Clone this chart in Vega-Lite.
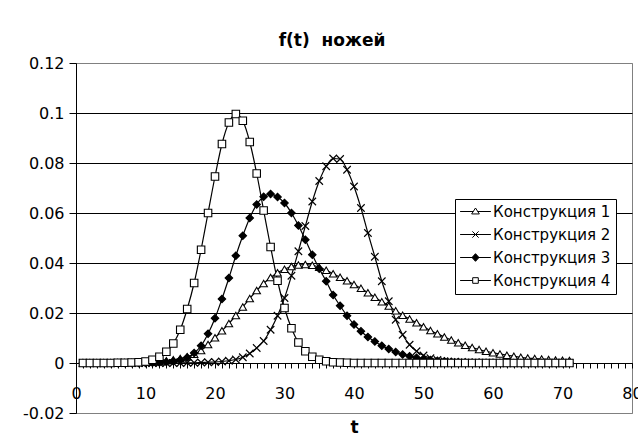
{
  "$schema": "https://vega.github.io/schema/vega-lite/v6.json",
  "width": 556,
  "height": 350,
  "autosize": {"type": "none"},
  "padding": {"left": 76, "top": 63, "right": 6, "bottom": 32},
  "background": "white",
  "title": {
    "text": "f(t)\u00a0 ножей",
    "font": "DejaVu Sans",
    "fontSize": 17,
    "fontWeight": "bold",
    "color": "black",
    "anchor": "middle",
    "dx": -22,
    "dy": 24,
    "baseline": "alphabetic",
    "offset": 16
  },
  "config": {
    "view": {"stroke": "#808080", "strokeWidth": 1},
    "axis": {
      "labelFont": "DejaVu Sans",
      "labelFontSize": 16,
      "labelColor": "black",
      "titleFont": "DejaVu Sans",
      "titleColor": "black",
      "domainColor": "black",
      "tickColor": "black",
      "domainWidth": 1,
      "tickWidth": 1
    },
    "legend": {
      "orient": "none",
      "legendX": 379,
      "legendY": 136,
      "fillColor": "white",
      "strokeColor": "black",
      "padding": 5,
      "labelFont": "DejaVu Sans",
      "labelFontSize": 15,
      "labelColor": "black",
      "symbolSize": 196,
      "symbolStrokeWidth": 1,
      "symbolOpacity": 1,
      "rowPadding": 7,
      "symbolOffset": 8,
      "labelOffset": 10
    }
  },
  "data": {
    "values": [
      {"t":1,"s":"Конструкция 1","v":0},{"t":2,"s":"Конструкция 1","v":0},{"t":3,"s":"Конструкция 1","v":0},{"t":4,"s":"Конструкция 1","v":0},{"t":5,"s":"Конструкция 1","v":0},
      {"t":6,"s":"Конструкция 1","v":0.0001},{"t":7,"s":"Конструкция 1","v":0.0001},{"t":8,"s":"Конструкция 1","v":0.0001},{"t":9,"s":"Конструкция 1","v":0.0002},{"t":10,"s":"Конструкция 1","v":0.0003},
      {"t":11,"s":"Конструкция 1","v":0.0004},{"t":12,"s":"Конструкция 1","v":0.0006},{"t":13,"s":"Конструкция 1","v":0.0009},{"t":14,"s":"Конструкция 1","v":0.0013},{"t":15,"s":"Конструкция 1","v":0.0018},
      {"t":16,"s":"Конструкция 1","v":0.0025},{"t":17,"s":"Конструкция 1","v":0.0035},{"t":18,"s":"Конструкция 1","v":0.005},{"t":19,"s":"Конструкция 1","v":0.0074},{"t":20,"s":"Конструкция 1","v":0.0101},
      {"t":21,"s":"Конструкция 1","v":0.0129},{"t":22,"s":"Конструкция 1","v":0.0158},{"t":23,"s":"Конструкция 1","v":0.019},{"t":24,"s":"Конструкция 1","v":0.0224},{"t":25,"s":"Конструкция 1","v":0.0258},
      {"t":26,"s":"Конструкция 1","v":0.029},{"t":27,"s":"Конструкция 1","v":0.0318},{"t":28,"s":"Конструкция 1","v":0.0342},{"t":29,"s":"Конструкция 1","v":0.0361},{"t":30,"s":"Конструкция 1","v":0.0375},
      {"t":31,"s":"Конструкция 1","v":0.0386},{"t":32,"s":"Конструкция 1","v":0.0392},{"t":33,"s":"Конструкция 1","v":0.0394},{"t":34,"s":"Конструкция 1","v":0.0391},{"t":35,"s":"Конструкция 1","v":0.0383},
      {"t":36,"s":"Конструкция 1","v":0.0371},{"t":37,"s":"Конструкция 1","v":0.0357},{"t":38,"s":"Конструкция 1","v":0.0343},{"t":39,"s":"Конструкция 1","v":0.0329},{"t":40,"s":"Конструкция 1","v":0.0314},
      {"t":41,"s":"Конструкция 1","v":0.0299},{"t":42,"s":"Конструкция 1","v":0.0281},{"t":43,"s":"Конструкция 1","v":0.0263},{"t":44,"s":"Конструкция 1","v":0.0245},{"t":45,"s":"Конструкция 1","v":0.0228},
      {"t":46,"s":"Конструкция 1","v":0.0209},{"t":47,"s":"Конструкция 1","v":0.0191},{"t":48,"s":"Конструкция 1","v":0.0176},{"t":49,"s":"Конструкция 1","v":0.0161},{"t":50,"s":"Конструкция 1","v":0.0145},
      {"t":51,"s":"Конструкция 1","v":0.013},{"t":52,"s":"Конструкция 1","v":0.0117},{"t":53,"s":"Конструкция 1","v":0.0104},{"t":54,"s":"Конструкция 1","v":0.0092},{"t":55,"s":"Конструкция 1","v":0.0081},
      {"t":56,"s":"Конструкция 1","v":0.0071},{"t":57,"s":"Конструкция 1","v":0.0062},{"t":58,"s":"Конструкция 1","v":0.0054},{"t":59,"s":"Конструкция 1","v":0.0047},{"t":60,"s":"Конструкция 1","v":0.0041},
      {"t":61,"s":"Конструкция 1","v":0.0036},{"t":62,"s":"Конструкция 1","v":0.0031},{"t":63,"s":"Конструкция 1","v":0.0027},{"t":64,"s":"Конструкция 1","v":0.0023},{"t":65,"s":"Конструкция 1","v":0.002},
      {"t":66,"s":"Конструкция 1","v":0.0018},{"t":67,"s":"Конструкция 1","v":0.0016},{"t":68,"s":"Конструкция 1","v":0.0014},{"t":69,"s":"Конструкция 1","v":0.0012},{"t":70,"s":"Конструкция 1","v":0.0011},
      {"t":71,"s":"Конструкция 1","v":0.001},

      {"t":1,"s":"Конструкция 2","v":0},{"t":2,"s":"Конструкция 2","v":0},{"t":3,"s":"Конструкция 2","v":0},{"t":4,"s":"Конструкция 2","v":0},{"t":5,"s":"Конструкция 2","v":0},
      {"t":6,"s":"Конструкция 2","v":0},{"t":7,"s":"Конструкция 2","v":0},{"t":8,"s":"Конструкция 2","v":0},{"t":9,"s":"Конструкция 2","v":0},{"t":10,"s":"Конструкция 2","v":0},
      {"t":11,"s":"Конструкция 2","v":0},{"t":12,"s":"Конструкция 2","v":0},{"t":13,"s":"Конструкция 2","v":0},{"t":14,"s":"Конструкция 2","v":0},{"t":15,"s":"Конструкция 2","v":0},
      {"t":16,"s":"Конструкция 2","v":0.0001},{"t":17,"s":"Конструкция 2","v":0.0001},{"t":18,"s":"Конструкция 2","v":0.0002},{"t":19,"s":"Конструкция 2","v":0.0003},{"t":20,"s":"Конструкция 2","v":0.0004},
      {"t":21,"s":"Конструкция 2","v":0.0006},{"t":22,"s":"Конструкция 2","v":0.0009},{"t":23,"s":"Конструкция 2","v":0.0014},{"t":24,"s":"Конструкция 2","v":0.0023},{"t":25,"s":"Конструкция 2","v":0.0038},
      {"t":26,"s":"Конструкция 2","v":0.006},{"t":27,"s":"Конструкция 2","v":0.0088},{"t":28,"s":"Конструкция 2","v":0.0133},{"t":29,"s":"Конструкция 2","v":0.0189},{"t":30,"s":"Конструкция 2","v":0.026},
      {"t":31,"s":"Конструкция 2","v":0.0349},{"t":32,"s":"Конструкция 2","v":0.0447},{"t":33,"s":"Конструкция 2","v":0.0548},{"t":34,"s":"Конструкция 2","v":0.0646},{"t":35,"s":"Конструкция 2","v":0.0728},
      {"t":36,"s":"Конструкция 2","v":0.0787},{"t":37,"s":"Конструкция 2","v":0.0818},{"t":38,"s":"Конструкция 2","v":0.0816},{"t":39,"s":"Конструкция 2","v":0.0773},{"t":40,"s":"Конструкция 2","v":0.0706},
      {"t":41,"s":"Конструкция 2","v":0.062},{"t":42,"s":"Конструкция 2","v":0.052},{"t":43,"s":"Конструкция 2","v":0.0425},{"t":44,"s":"Конструкция 2","v":0.0327},{"t":45,"s":"Конструкция 2","v":0.0247},
      {"t":46,"s":"Конструкция 2","v":0.0173},{"t":47,"s":"Конструкция 2","v":0.0113},{"t":48,"s":"Конструкция 2","v":0.0073},{"t":49,"s":"Конструкция 2","v":0.0047},{"t":50,"s":"Конструкция 2","v":0.003},
      {"t":51,"s":"Конструкция 2","v":0.0019},{"t":52,"s":"Конструкция 2","v":0.0012},{"t":53,"s":"Конструкция 2","v":0.0007},{"t":54,"s":"Конструкция 2","v":0.0004},{"t":55,"s":"Конструкция 2","v":0.0002},
      {"t":56,"s":"Конструкция 2","v":0.0001},{"t":57,"s":"Конструкция 2","v":0},{"t":58,"s":"Конструкция 2","v":0},{"t":59,"s":"Конструкция 2","v":0},{"t":60,"s":"Конструкция 2","v":0},
      {"t":61,"s":"Конструкция 2","v":0},{"t":62,"s":"Конструкция 2","v":0},{"t":63,"s":"Конструкция 2","v":0},{"t":64,"s":"Конструкция 2","v":0},{"t":65,"s":"Конструкция 2","v":0},
      {"t":66,"s":"Конструкция 2","v":0},{"t":67,"s":"Конструкция 2","v":0},{"t":68,"s":"Конструкция 2","v":0},{"t":69,"s":"Конструкция 2","v":0},{"t":70,"s":"Конструкция 2","v":0},
      {"t":71,"s":"Конструкция 2","v":0},

      {"t":1,"s":"Конструкция 3","v":0},{"t":2,"s":"Конструкция 3","v":0},{"t":3,"s":"Конструкция 3","v":0},{"t":4,"s":"Конструкция 3","v":0},{"t":5,"s":"Конструкция 3","v":0},
      {"t":6,"s":"Конструкция 3","v":0},{"t":7,"s":"Конструкция 3","v":0},{"t":8,"s":"Конструкция 3","v":0},{"t":9,"s":"Конструкция 3","v":0},{"t":10,"s":"Конструкция 3","v":0},
      {"t":11,"s":"Конструкция 3","v":0.0001},{"t":12,"s":"Конструкция 3","v":0.0002},{"t":13,"s":"Конструкция 3","v":0.0004},{"t":14,"s":"Конструкция 3","v":0.0007},{"t":15,"s":"Конструкция 3","v":0.0012},
      {"t":16,"s":"Конструкция 3","v":0.0022},{"t":17,"s":"Конструкция 3","v":0.004},{"t":18,"s":"Конструкция 3","v":0.0069},{"t":19,"s":"Конструкция 3","v":0.0117},{"t":20,"s":"Конструкция 3","v":0.0179},
      {"t":21,"s":"Конструкция 3","v":0.0256},{"t":22,"s":"Конструкция 3","v":0.034},{"t":23,"s":"Конструкция 3","v":0.0429},{"t":24,"s":"Конструкция 3","v":0.0509},{"t":25,"s":"Конструкция 3","v":0.058},
      {"t":26,"s":"Конструкция 3","v":0.0634},{"t":27,"s":"Конструкция 3","v":0.0665},{"t":28,"s":"Конструкция 3","v":0.0676},{"t":29,"s":"Конструкция 3","v":0.0664},{"t":30,"s":"Конструкция 3","v":0.064},
      {"t":31,"s":"Конструкция 3","v":0.06},{"t":32,"s":"Конструкция 3","v":0.055},{"t":33,"s":"Конструкция 3","v":0.0493},{"t":34,"s":"Конструкция 3","v":0.0433},{"t":35,"s":"Конструкция 3","v":0.0377},
      {"t":36,"s":"Конструкция 3","v":0.0327},{"t":37,"s":"Конструкция 3","v":0.0272},{"t":38,"s":"Конструкция 3","v":0.0229},{"t":39,"s":"Конструкция 3","v":0.0189},{"t":40,"s":"Конструкция 3","v":0.0154},
      {"t":41,"s":"Конструкция 3","v":0.0127},{"t":42,"s":"Конструкция 3","v":0.0104},{"t":43,"s":"Конструкция 3","v":0.0086},{"t":44,"s":"Конструкция 3","v":0.0069},{"t":45,"s":"Конструкция 3","v":0.0056},
      {"t":46,"s":"Конструкция 3","v":0.0044},{"t":47,"s":"Конструкция 3","v":0.0034},{"t":48,"s":"Конструкция 3","v":0.0027},{"t":49,"s":"Конструкция 3","v":0.0021},{"t":50,"s":"Конструкция 3","v":0.0016},
      {"t":51,"s":"Конструкция 3","v":0.0012},{"t":52,"s":"Конструкция 3","v":0.0009},{"t":53,"s":"Конструкция 3","v":0.0007},{"t":54,"s":"Конструкция 3","v":0.0005},{"t":55,"s":"Конструкция 3","v":0.0004},
      {"t":56,"s":"Конструкция 3","v":0.0003},{"t":57,"s":"Конструкция 3","v":0.0002},{"t":58,"s":"Конструкция 3","v":0.0002},{"t":59,"s":"Конструкция 3","v":0.0001},{"t":60,"s":"Конструкция 3","v":0.0001},
      {"t":61,"s":"Конструкция 3","v":0.0001},{"t":62,"s":"Конструкция 3","v":0},{"t":63,"s":"Конструкция 3","v":0},{"t":64,"s":"Конструкция 3","v":0},{"t":65,"s":"Конструкция 3","v":0},
      {"t":66,"s":"Конструкция 3","v":0},{"t":67,"s":"Конструкция 3","v":0},{"t":68,"s":"Конструкция 3","v":0},{"t":69,"s":"Конструкция 3","v":0},{"t":70,"s":"Конструкция 3","v":0},
      {"t":71,"s":"Конструкция 3","v":0},

      {"t":1,"s":"Конструкция 4","v":0},{"t":2,"s":"Конструкция 4","v":0},{"t":3,"s":"Конструкция 4","v":0},{"t":4,"s":"Конструкция 4","v":0},{"t":5,"s":"Конструкция 4","v":0},
      {"t":6,"s":"Конструкция 4","v":0.0001},{"t":7,"s":"Конструкция 4","v":0.0001},{"t":8,"s":"Конструкция 4","v":0.0002},{"t":9,"s":"Конструкция 4","v":0.0003},{"t":10,"s":"Конструкция 4","v":0.0006},
      {"t":11,"s":"Конструкция 4","v":0.0013},{"t":12,"s":"Конструкция 4","v":0.0025},{"t":13,"s":"Конструкция 4","v":0.0045},{"t":14,"s":"Конструкция 4","v":0.0078},{"t":15,"s":"Конструкция 4","v":0.0133},
      {"t":16,"s":"Конструкция 4","v":0.0216},{"t":17,"s":"Конструкция 4","v":0.032},{"t":18,"s":"Конструкция 4","v":0.0453},{"t":19,"s":"Конструкция 4","v":0.06},{"t":20,"s":"Конструкция 4","v":0.0746},
      {"t":21,"s":"Конструкция 4","v":0.0876},{"t":22,"s":"Конструкция 4","v":0.0962},{"t":23,"s":"Конструкция 4","v":0.0996},{"t":24,"s":"Конструкция 4","v":0.0969},{"t":25,"s":"Конструкция 4","v":0.0884},
      {"t":26,"s":"Конструкция 4","v":0.0758},{"t":27,"s":"Конструкция 4","v":0.061},{"t":28,"s":"Конструкция 4","v":0.0464},{"t":29,"s":"Конструкция 4","v":0.0329},{"t":30,"s":"Конструкция 4","v":0.022},
      {"t":31,"s":"Конструкция 4","v":0.0139},{"t":32,"s":"Конструкция 4","v":0.0082},{"t":33,"s":"Конструкция 4","v":0.0047},{"t":34,"s":"Конструкция 4","v":0.0025},{"t":35,"s":"Конструкция 4","v":0.0013},
      {"t":36,"s":"Конструкция 4","v":0.0007},{"t":37,"s":"Конструкция 4","v":0.0003},{"t":38,"s":"Конструкция 4","v":0.0002},{"t":39,"s":"Конструкция 4","v":0.0001},{"t":40,"s":"Конструкция 4","v":0},
      {"t":41,"s":"Конструкция 4","v":0},{"t":42,"s":"Конструкция 4","v":0},{"t":43,"s":"Конструкция 4","v":0},{"t":44,"s":"Конструкция 4","v":0},{"t":45,"s":"Конструкция 4","v":0},
      {"t":46,"s":"Конструкция 4","v":0},{"t":47,"s":"Конструкция 4","v":0},{"t":48,"s":"Конструкция 4","v":0},{"t":49,"s":"Конструкция 4","v":0},{"t":50,"s":"Конструкция 4","v":0},
      {"t":51,"s":"Конструкция 4","v":0},{"t":52,"s":"Конструкция 4","v":0},{"t":53,"s":"Конструкция 4","v":0},{"t":54,"s":"Конструкция 4","v":0},{"t":55,"s":"Конструкция 4","v":0},
      {"t":56,"s":"Конструкция 4","v":0},{"t":57,"s":"Конструкция 4","v":0},{"t":58,"s":"Конструкция 4","v":0},{"t":59,"s":"Конструкция 4","v":0},{"t":60,"s":"Конструкция 4","v":0},
      {"t":61,"s":"Конструкция 4","v":0},{"t":62,"s":"Конструкция 4","v":0},{"t":63,"s":"Конструкция 4","v":0},{"t":64,"s":"Конструкция 4","v":0},{"t":65,"s":"Конструкция 4","v":0},
      {"t":66,"s":"Конструкция 4","v":0},{"t":67,"s":"Конструкция 4","v":0},{"t":68,"s":"Конструкция 4","v":0},{"t":69,"s":"Конструкция 4","v":0},{"t":70,"s":"Конструкция 4","v":0},
      {"t":71,"s":"Конструкция 4","v":0}
    ]
  },
  "encoding": {
    "x": {
      "field": "t",
      "type": "quantitative",
      "scale": {"domain": [0, 80], "nice": false, "zero": false},
      "axis": {
        "title": "t",
        "titleFontSize": 17,
        "titleFontWeight": "bold",
        "titlePadding": 18,
        "offset": {"expr": "scale('y', 0) - height"},
        "values": [0,1,2,3,4,5,6,7,8,9,10,11,12,13,14,15,16,17,18,19,20,21,22,23,24,25,26,27,28,29,30,31,32,33,34,35,36,37,38,39,40,41,42,43,44,45,46,47,48,49,50,51,52,53,54,55,56,57,58,59,60,61,62,63,64,65,66,67,68,69,70,71,72,73,74,75,76,77,78,79,80],
        "labelExpr": "datum.value % 10 === 0 ? datum.label : ''",
        "labelOverlap": false,
        "labelBound": false,
        "labelFlush": false,
        "tickSize": 5,
        "labelPadding": 17,
        "grid": false
      }
    },
    "y": {
      "field": "v",
      "type": "quantitative",
      "scale": {"domain": [-0.02, 0.12], "nice": false, "zero": false},
      "axis": {
        "title": null,
        "values": [-0.02, 0, 0.02, 0.04, 0.06, 0.08, 0.1, 0.12],
        "labelExpr": "toString(round(datum.value * 100) / 100)",
        "tickSize": 7,
        "labelPadding": 5,
        "grid": true,
        "gridColor": {"condition": {"test": "datum.value > 0.119 || datum.value < -0.019", "value": "#808080"}, "value": "black"},
        "gridWidth": 1,
        "gridOpacity": 1
      }
    }
  },
  "layer": [
    {
      "mark": {"type": "line", "color": "black", "strokeWidth": 1.2, "interpolate": "monotone"},
      "encoding": {"detail": {"field": "s", "type": "nominal"}}
    },
    {
      "mark": {"type": "point", "filled": true, "opacity": 1, "stroke": "black", "strokeWidth": 1.1, "size": 56},
      "encoding": {
        "shape": {
          "field": "s",
          "type": "nominal",
          "scale": {
            "domain": ["Конструкция 1", "Конструкция 2", "Конструкция 3", "Конструкция 4"],
            "range": ["triangle-up", "M-1,-1L1,1M-1,1L1,-1", "diamond", "square"]
          },
          "legend": null
        },
        "fill": {
          "field": "s",
          "type": "nominal",
          "scale": {
            "domain": ["Конструкция 1", "Конструкция 2", "Конструкция 3", "Конструкция 4"],
            "range": ["white", "black", "black", "white"]
          },
          "legend": null
        }
      }
    },
    {
      "transform": [{"filter": "false"}],
      "mark": {"type": "point", "filled": true, "opacity": 1, "strokeWidth": 1},
      "encoding": {
        "shape": {
          "field": "s",
          "type": "nominal",
          "scale": {
            "domain": ["Конструкция 1", "Конструкция 2", "Конструкция 3", "Конструкция 4"],
            "range": [
              "M-2.2,0H-0.3M0.3,0H2.2M0,-0.5L0.55,0.35L-0.55,0.35Z",
              "M-2.2,0H2.2M-0.45,-0.45L0.45,0.45M-0.45,0.45L0.45,-0.45",
              "M-2.2,0H2.2M0,-0.55L0.5,0L0,0.55L-0.5,0Z",
              "M-2.2,0H-0.4M0.4,0H2.2M-0.4,-0.4H0.4V0.4H-0.4Z"
            ]
          },
          "legend": {"title": null}
        },
        "fill": {
          "field": "s",
          "type": "nominal",
          "scale": {
            "domain": ["Конструкция 1", "Конструкция 2", "Конструкция 3", "Конструкция 4"],
            "range": ["white", "black", "black", "white"]
          },
          "legend": {"title": null}
        },
        "stroke": {
          "field": "s",
          "type": "nominal",
          "scale": {
            "domain": ["Конструкция 1", "Конструкция 2", "Конструкция 3", "Конструкция 4"],
            "range": ["black", "black", "black", "black"]
          },
          "legend": {"title": null}
        }
      }
    }
  ],
  "resolve": {
    "scale": {"shape": "independent", "fill": "independent", "stroke": "independent"},
    "legend": {"shape": "independent", "fill": "independent", "stroke": "independent"}
  }
}
